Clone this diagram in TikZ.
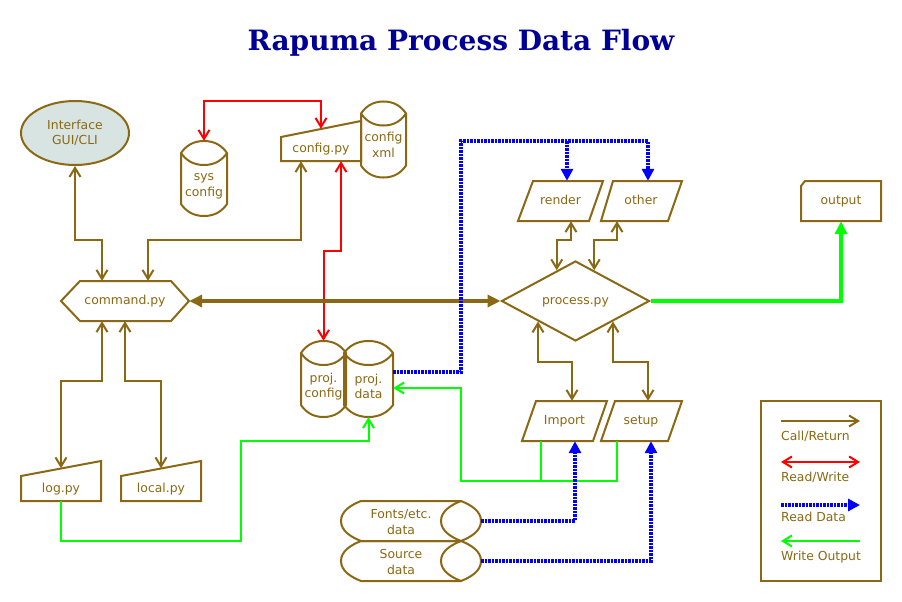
\documentclass[tikz,border=0pt]{standalone}
\usepackage{fontspec}
\setmainfont{DejaVu Sans}
\newfontfamily\titlefont{DejaVu Serif}
\usetikzlibrary{arrows.meta,shapes.geometric,calc}
\definecolor{gold}{HTML}{8B6914}
\definecolor{ifill}{HTML}{D8E4E2}
\definecolor{tblue}{HTML}{000096}
\definecolor{gline}{HTML}{00FF00}
\definecolor{rline}{HTML}{FF0000}
\definecolor{bline}{HTML}{0000FF}
% vertical cylinder: xc, ytop, ybottom, half width, ry
\newcommand\drawcyl[5]{%
 \draw[outl] ({#1-#4},{#2+#5})
  .. controls ({#1-0.8*#4},{#2+0.45*#5}) and ({#1-0.5*#4},{#2}) .. ({#1},{#2})
  .. controls ({#1+0.5*#4},{#2}) and ({#1+0.8*#4},{#2+0.45*#5}) .. ({#1+#4},{#2+#5})
  -- ({#1+#4},{#3-#5})
  .. controls ({#1+0.8*#4},{#3-0.45*#5}) and ({#1+0.5*#4},{#3}) .. ({#1},{#3})
  .. controls ({#1-0.5*#4},{#3}) and ({#1-0.8*#4},{#3-0.45*#5}) .. ({#1-#4},{#3-#5})
  -- cycle;
 \draw[outl] ({#1-#4},{#2+#5})
  .. controls ({#1-0.8*#4},{#2+1.55*#5}) and ({#1-0.5*#4},{#2+2*#5}) .. ({#1},{#2+2*#5})
  .. controls ({#1+0.5*#4},{#2+2*#5}) and ({#1+0.8*#4},{#2+1.55*#5}) .. ({#1+#4},{#2+#5});
}
% horizontal cylinder: xleft, xright, ymid, half height, rx
\newcommand\drawhcyl[5]{%
 \draw[outl] ({#1+#5},{#3-#4}) -- ({#2-#5},{#3-#4})
  .. controls ({#2-0.5*#5},{#3-0.8*#4}) and ({#2},{#3-0.5*#4}) .. ({#2},{#3})
  .. controls ({#2},{#3+0.5*#4}) and ({#2-0.5*#5},{#3+0.8*#4}) .. ({#2-#5},{#3+#4})
  -- ({#1+#5},{#3+#4})
  .. controls ({#1+0.5*#5},{#3+0.8*#4}) and ({#1},{#3+0.5*#4}) .. ({#1},{#3})
  .. controls ({#1},{#3-0.5*#4}) and ({#1+0.5*#5},{#3-0.8*#4}) .. ({#1+#5},{#3-#4})
  -- cycle;
 \draw[outl] ({#2-#5},{#3-#4})
  .. controls ({#2-1.5*#5},{#3-0.8*#4}) and ({#2-2*#5},{#3-0.5*#4}) .. ({#2-2*#5},{#3})
  .. controls ({#2-2*#5},{#3+0.5*#4}) and ({#2-1.5*#5},{#3+0.8*#4}) .. ({#2-#5},{#3+#4});
}
\begin{document}
\begin{tikzpicture}[x=1pt,y=-1pt,
  outl/.style={draw=gold,line width=2pt},
  lbl/.style={text=gold,font=\fontsize{12.4}{15.5}\selectfont,align=center,inner sep=0pt},
  lbl1/.style={lbl,text height=9pt,text depth=3pt},
  box/.style={lbl1,draw=none},
  cr/.style={draw=gold,line width=2pt,{Straight Barb[length=9pt,width=11pt]}-{Straight Barb[length=9pt,width=11pt]}},
  crone/.style={draw=gold,line width=2pt,-{Straight Barb[length=9pt,width=11pt]}},
  crthick/.style={draw=gold,line width=3.5pt,{Triangle[length=13pt,width=12pt]}-{Triangle[length=13pt,width=12pt]}},
  rw/.style={draw=rline,line width=2pt,{Straight Barb[length=9pt,width=11pt]}-{Straight Barb[length=9pt,width=11pt]}},
  rd/.style={draw=bline,line width=3.2pt,dash pattern=on 2.5pt off 1pt,-{Triangle[length=12pt,width=12pt]}},
  wo/.style={draw=gline,line width=2pt,-{Straight Barb[length=9pt,width=11pt]}},
  woline/.style={draw=gline,line width=2pt},
  wothick/.style={draw=gline,line width=4pt,-{Triangle[length=13pt,width=12pt]}},
]
\fill[white] (0,0) rectangle (902,602);
\useasboundingbox (0,0) rectangle (902,602);

\node[font=\titlefont\bfseries\fontsize{28}{32}\selectfont,text=tblue,anchor=base] (title) at (461,51) {Rapuma Process Data Flow};

% Interface
\node[ellipse,draw=gold,line width=2pt,fill=ifill,minimum width=108,minimum height=64,lbl] (iface) at (75,133) {Interface\\GUI/CLI};

% sys config
\drawcyl{204}{141}{216}{23}{12}
\node[box,minimum width=46,minimum height=75] (sys) at (204,178.5) {};
\node[lbl] (sysT) at (204,186.5) {sys\\config};

% config.py
\draw[outl] (281,137) -- (361,121) -- (361,161) -- (281,161) -- cycle;
\node[box,minimum width=80,minimum height=40] (cfg) at (321,141) {};
\node[lbl1] (cfgT) at (321,149.5) {config.py};

% config xml
\drawcyl{383.5}{101.5}{177.5}{22.5}{12}
\node[lbl] (xml) at (383.5,145) {config\\xml};

% render / other
\draw[outl] (518,221) -- (589,221) -- (603,181) -- (533,181) -- cycle;
\node[box,minimum width=85,minimum height=40] (render) at (560.5,201) {render};
\draw[outl] (601,221) -- (668,221) -- (682,181) -- (613,181) -- cycle;
\node[box,minimum width=81,minimum height=40] (other) at (641,201) {other};

% output
\draw[outl] (805,181) -- (881,181) -- (881,221) -- (801,221) -- (801,186) -- cycle;
\node[box,minimum width=80,minimum height=40] (output) at (841,201) {output};

% command.py
\draw[outl] (61,301) -- (80,281) -- (171,281) -- (189,301) -- (171,321) -- (80,321) -- cycle;
\node[box,minimum width=128,minimum height=40] (cmd) at (125,301) {command.py};

% process.py
\node[diamond,draw=gold,line width=2pt,minimum width=148,minimum height=80,lbl1] (proc) at (575.5,301) {process.py};

% proj. config / proj. data
\drawcyl{323.5}{341}{417}{22.5}{12}
\drawcyl{368.5}{341}{417}{24.5}{12}
\node[box,minimum width=45,minimum height=76] (pcfg) at (323.5,379) {};
\node[box,minimum width=49,minimum height=76] (pdata) at (368.5,379) {};
\node[lbl] (pcfgT) at (323.5,386.5) {proj.\\config};
\node[lbl] (pdataT) at (368.5,386.5) {proj.\\data};

% Import / setup
\draw[outl] (522,441) -- (593,441) -- (607,401) -- (536,401) -- cycle;
\node[box,minimum width=85,minimum height=40] (imp) at (564.5,421) {Import};
\draw[outl] (601,441) -- (668,441) -- (682,401) -- (615,401) -- cycle;
\node[box,minimum width=81,minimum height=40] (setup) at (641,421) {setup};

% log.py / local.py
\draw[outl] (21,476) -- (101,461) -- (101,501) -- (21,501) -- cycle;
\node[box,minimum width=80,minimum height=40] (log) at (61,481) {};
\node[lbl1] (logT) at (61,489) {log.py};
\draw[outl] (121,476) -- (201,461) -- (201,501) -- (121,501) -- cycle;
\node[box,minimum width=80,minimum height=40] (local) at (161,481) {};
\node[lbl1] (localT) at (161,489) {local.py};

% Fonts / Source
\drawhcyl{341}{481}{521}{20}{20}
\drawhcyl{341}{481}{561}{20}{20}
\node[box,minimum width=140,minimum height=40] (fonts) at (411,521) {};
\node[lbl] (fontsT) at (401,522) {Fonts/etc.\\data};
\node[box,minimum width=140,minimum height=40] (source) at (411,561) {};
\node[lbl] (sourceT) at (401,562) {Source\\data};

% ---- connectors ----
\draw[cr] ([xshift=-23pt]cmd.north) -- ++(0,-41) -| (iface.south);
\draw[cr] ([xshift=23pt]cmd.north) -- ++(0,-41) -| ([xshift=-20pt]cfg.south);
\draw[rw] (sys.north) -- ++(0,-40) -| ([yshift=-8pt]cfg.north);
\draw[rw] ([xshift=20pt]cfg.south) -- ++(0,90) -| (pcfg.north);
\draw[crthick] (cmd.east) -- (proc.west);
\draw[cr] ([xshift=10.5pt]render.south) -- ++(0,19) -| ($(proc.north)!0.25!(proc.west)$);
\draw[cr] ([xshift=-24pt]other.south) -- ++(0,19) -| ($(proc.north)!0.25!(proc.east)$);
\draw[cr] ($(proc.south)!0.5!(proc.west)$) -- ++(0,40) -| ([xshift=7.5pt]imp.north);
\draw[cr] ($(proc.south)!0.5!(proc.east)$) -- ++(0,40) -| ([xshift=7pt]setup.north);
\draw[wothick] (proc.east) -| (output.south);
\draw[rd] ([yshift=7pt]pdata.east) -| (461,141) -| ([xshift=7pt]other.north);
\coordinate (bsplit) at (567,141);
\draw[rd] (bsplit) -- ([xshift=6.5pt]render.north);
\draw[wo] ([xshift=-24pt]imp.south) -- ++(0,40) -| (461,388) -- ([yshift=-9pt]pdata.east);
\draw[woline] ([xshift=-24pt]setup.south) -- ++(0,40) -- ++(-77,0);
\draw[wo] (log.south) -- ++(0,40) -| (241,441) -| (pdata.south);
\draw[rd] (fonts.east) -| ([xshift=10.5pt]imp.south);
\draw[rd] (source.east) -| ([xshift=10pt]setup.south);
\draw[cr] ([xshift=-23pt]cmd.south) -- ++(0,60) -| ([yshift=-7.5pt]log.north);
\draw[cr] (cmd.south) -- ++(0,60) -| ([yshift=-7.5pt]local.north);

% ---- legend ----
\node[draw=gold,line width=2pt,minimum width=120,minimum height=180,inner sep=0pt] (legend) at (821,491) {};
\coordinate (l1a) at (781,421); \coordinate (l1b) at (860,421);
\draw[crone] (l1a) -- (l1b);
\node[lbl1,anchor=west] (l1t) at (781,437.5) {Call/Return};
\coordinate (l2a) at (781,462); \coordinate (l2b) at (860,462);
\draw[rw] (l2a) -- (l2b);
\node[lbl1,anchor=west] (l2t) at (781,478.5) {Read/Write};
\coordinate (l3a) at (781,505); \coordinate (l3b) at (860,505);
\draw[rd] (l3a) -- (l3b);
\node[lbl1,anchor=west] (l3t) at (781,518.5) {Read Data};
\coordinate (l4a) at (860,541); \coordinate (l4b) at (781,541);
\draw[wo] (l4a) -- (l4b);
\node[lbl1,anchor=west] (l4t) at (781,557.5) {Write Output};
\end{tikzpicture}
\end{document}
